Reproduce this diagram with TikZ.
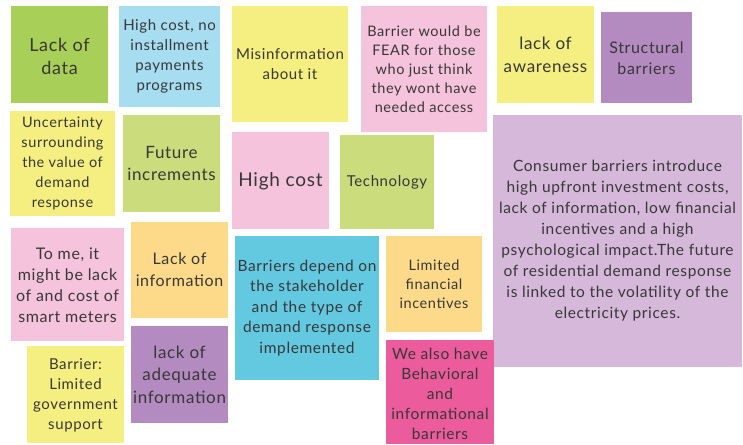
\documentclass[tikz,border=0pt]{standalone}
\usepackage{fontspec}
\setmainfont[LetterSpace=4]{Lato}
\definecolor{cgreen}{HTML}{A8CF57}
\definecolor{cblue}{HTML}{A6DDF0}
\definecolor{cyellow}{HTML}{F5EF81}
\definecolor{clime}{HTML}{CBDC7D}
\definecolor{cpink}{HTML}{F5C3DB}
\definecolor{cpurple}{HTML}{B38BC0}
\definecolor{clilac}{HTML}{D5B8DA}
\definecolor{corange}{HTML}{FCDA8A}
\definecolor{ccyan}{HTML}{63C9E1}
\definecolor{chot}{HTML}{EC5B9C}
\definecolor{ctext}{HTML}{383838}
\tikzset{
  note/.style={draw=none, inner sep=0pt, align=center, text=ctext, anchor=center}
}
\begin{document}
\begin{tikzpicture}[x=1pt,y=-1pt]
\useasboundingbox (0,0) rectangle (743,444);
% boxes
\fill[cgreen]  (11,6) rectangle (108,103);
\fill[cblue]   (119,6) rectangle (220,107);
\fill[cyellow] (10,111) rectangle (115,216);
\fill[clime]   (123,115) rectangle (220,212);
\fill[cyellow] (232,6) rectangle (348,122);
\fill[cpink]   (361,6) rectangle (487,132);
\fill[cpink]   (232,132) rectangle (329,229);
\fill[clime]   (340,135) rectangle (434,229);
\fill[cyellow] (497,6) rectangle (594,103);
\fill[cpurple] (601,12) rectangle (692,103);
\fill[clilac]  (493,115) rectangle (742,367);
\fill[cpink]   (11,228) rectangle (124,341);
\fill[corange] (131,222) rectangle (228,318);
\fill[cyellow] (27,346) rectangle (124,443);
\fill[cpurple] (131,326) rectangle (228,423);
\fill[ccyan]   (235,236) rectangle (379,380);
\fill[corange] (386,236) rectangle (482,332);
\fill[chot]    (386,340) rectangle (494,444);
% texts
\node[note, font=\fontsize{18}{23}\selectfont] (n1) at (59.5,56) {Lack of\\data};
\node[note, font=\fontsize{15}{20}\selectfont] (n2) at (169.5,56) {High cost, no\\installment\\payments\\programs};
\node[note, font=\fontsize{14.5}{20}\selectfont] (n3) at (62.5,163.5) {Uncertainty\\surrounding\\the value of\\demand\\response};
\node[note, font=\fontsize{17}{22.5}\selectfont] (n4) at (171.5,163.5) {Future\\increments};
\node[note, font=\fontsize{15}{20}\selectfont] (n5) at (290,64) {Misinformation\\about it};
\node[note, font=\fontsize{14.5}{19}\selectfont] (n6) at (424,69) {Barrier would be\\FEAR for those\\who just think\\they wont have\\needed access};
\node[note, font=\fontsize{19}{23}\selectfont] (n7) at (280.5,181) {High cost};
\node[note, font=\fontsize{15}{20}\selectfont] (n8) at (387,182) {Technology};
\node[note, font=\fontsize{17}{23}\selectfont] (n9) at (545.5,55) {lack of\\awareness};
\node[note, font=\fontsize{16}{21}\selectfont] (n10) at (646.5,58) {Structural\\barriers};
\node[note, font=\fontsize{15.5}{21}\selectfont] (n11) at (617.5,241) {Consumer barriers introduce\\high upfront investment costs,\\lack of information, low financial\\incentives and a high\\psychological impact.The future\\of residential demand response\\is linked to the volatility of the\\electricity prices.};
\node[note, font=\fontsize{16}{21}\selectfont] (n12) at (67.5,285) {To me, it\\might be lack\\of and cost of\\smart meters};
\node[note, font=\fontsize{16}{22}\selectfont] (n13) at (179.5,270) {Lack of\\information};
\node[note, font=\fontsize{15}{20}\selectfont] (n14) at (75.5,395) {Barrier:\\Limited\\government\\support};
\node[note, font=\fontsize{17}{22.5}\selectfont] (n15) at (179.5,374.5) {lack of\\adequate\\information};
\node[note, font=\fontsize{15.5}{20.5}\selectfont] (n16) at (307,308) {Barriers depend on\\the stakeholder\\and the type of\\demand response\\implemented};
\node[note, font=\fontsize{14.5}{19}\selectfont] (n17) at (434,284) {Limited\\financial\\incentives};
\node[note, font=\fontsize{15.5}{20}\selectfont] (n18) at (440,394) {We also have\\Behavioral\\and\\informational\\barriers};
\end{tikzpicture}
\end{document}
